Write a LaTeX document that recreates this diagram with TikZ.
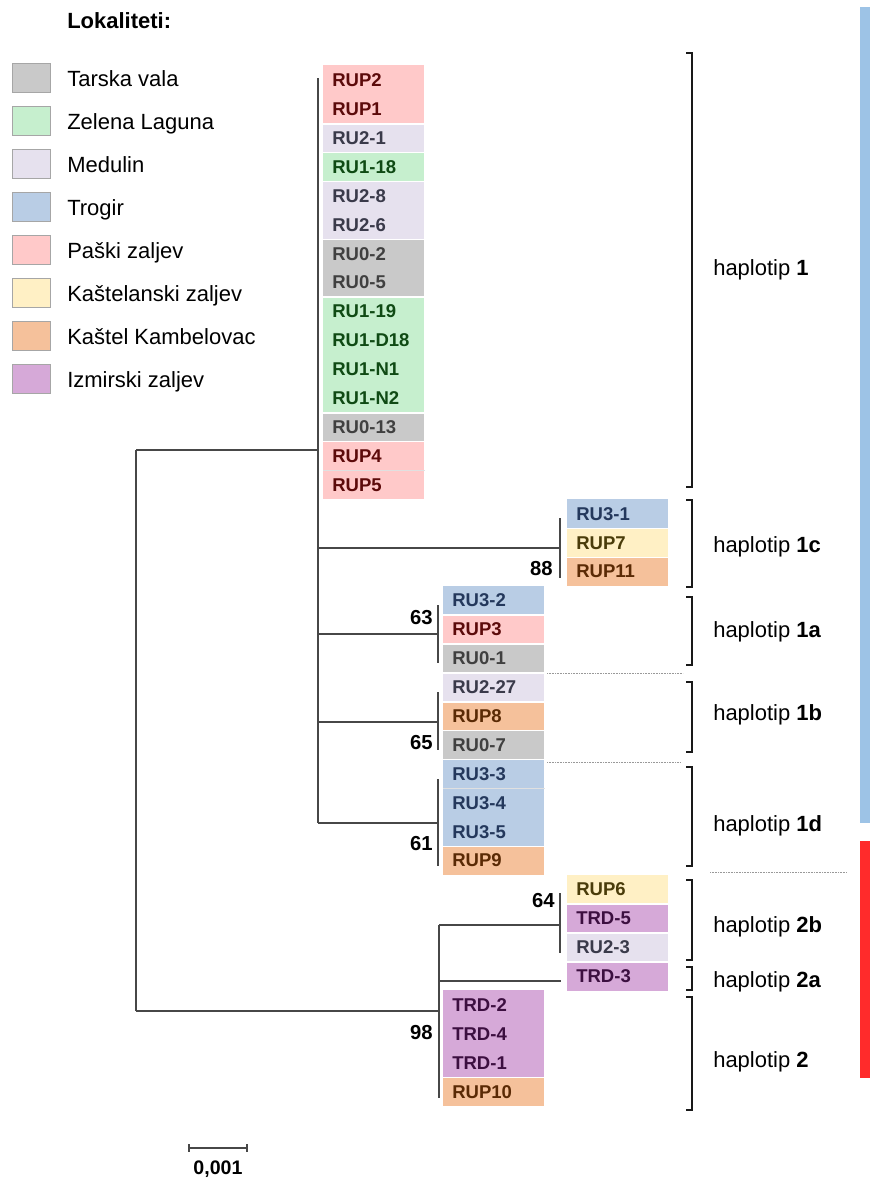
\documentclass[tikz,border=0pt]{standalone}
\usepackage{fontspec}
\setmainfont{Liberation Sans}
\newcommand\legfont{\fontsize{16.5}{19}\selectfont}
\newcommand\leaffont{\fontsize{13.9}{16}\selectfont\bfseries}
\newcommand\bootfont{\fontsize{15.2}{17}\selectfont\bfseries}
\definecolor{pafill}{HTML}{FFC9C9}\definecolor{patext}{HTML}{5C0A0A}
\definecolor{grfill}{HTML}{C9C9C9}\definecolor{grtext}{HTML}{404040}
\definecolor{zlfill}{HTML}{C6EFCE}\definecolor{zltext}{HTML}{0F4A14}
\definecolor{mdfill}{HTML}{E6E1EE}\definecolor{mdtext}{HTML}{3A3A4A}
\definecolor{trfill}{HTML}{B9CDE5}\definecolor{trtext}{HTML}{24385C}
\definecolor{ksfill}{HTML}{FFF0C5}\definecolor{kstext}{HTML}{4A3C0A}
\definecolor{kkfill}{HTML}{F5C19B}\definecolor{kktext}{HTML}{5A2A05}
\definecolor{izfill}{HTML}{D6A9D8}\definecolor{iztext}{HTML}{3C0F40}
\definecolor{barblue}{HTML}{9DC3E6}
\definecolor{barred}{HTML}{FF2B2B}
\begin{document}
\begin{tikzpicture}[x=0.75pt,y=-0.75pt,
  leaf/.style={anchor=west, fill=#1fill, text=#1text, font=\leaffont,
    inner xsep=6.75pt, inner ysep=0pt, text width=62.25pt, align=left,
    minimum height=21.9pt, text height=9.95pt, text depth=0pt},
  swatch/.style={fill=#1fill, draw=black!35, line width=0.6pt,
    minimum width=28.5pt, minimum height=21.75pt, inner sep=0pt},
  legtext/.style={anchor=west, font=\legfont, inner sep=0pt,
    text height=11.8pt, text depth=0pt},
  hap/.style={anchor=west, font=\legfont, inner sep=0pt,
    text height=11.8pt, text depth=0pt},
  boot/.style={anchor=east, font=\bootfont, inner sep=0pt,
    text height=10.9pt, text depth=0pt},
  tree/.style={draw=black!72, line width=1.1pt},
  brk/.style={draw=black!90, line width=1.1pt},
  sepw/.style={draw=white, line width=1.1pt},
  sepf/.style={draw=black!12, line width=0.5pt},
  dots/.style={draw=black!40, line width=0.6pt, dash pattern=on 0.6pt off 0.6pt},
]
\useasboundingbox (0,0) rectangle (870,1178);

% ---- legend
\node[legtext, font=\legfont\bfseries] (legtitle) at (67,21) {Lokaliteti:};
\foreach \i/\cc/\lab in {0/gr/Tarska vala,1/zl/Zelena Laguna,2/md/Medulin,3/tr/Trogir,
  4/pa/Paški zaljev,5/ks/Kaštelanski zaljev,6/kk/Kaštel Kambelovac,7/iz/Izmirski zaljev}{
  \node[swatch=\cc] (sw\i) at (31,{77.5+43*\i}) {};
  \node[legtext] (lt\i) at (67,{78.5+43*\i}) {\lab};
}

% ---- side bars
\fill[barblue] (860,7) rectangle (870,823);
\fill[barred] (860,841) rectangle (870,1078);

% ---- leaves
\foreach \k/\lab/\cc/\xx in {
  0/RUP2/pa/323, 1/RUP1/pa/323, 2/RU2-1/md/323, 3/RU1-18/zl/323,
  4/RU2-8/md/323, 5/RU2-6/md/323, 6/RU0-2/gr/323, 7/RU0-5/gr/323,
  8/RU1-19/zl/323, 9/RU1-D18/zl/323, 10/RU1-N1/zl/323, 11/RU1-N2/zl/323,
  12/RU0-13/gr/323, 13/RUP4/pa/323, 14/RUP5/pa/323,
  15/RU3-1/tr/567, 16/RUP7/ks/567, 17/RUP11/kk/567,
  18/RU3-2/tr/443, 19/RUP3/pa/443, 20/RU0-1/gr/443,
  21/RU2-27/md/443, 22/RUP8/kk/443, 23/RU0-7/gr/443,
  24/RU3-3/tr/443, 25/RU3-4/tr/443, 26/RU3-5/tr/443, 27/RUP9/kk/443,
  28/RUP6/ks/567, 29/TRD-5/iz/567, 30/RU2-3/md/567, 31/TRD-3/iz/567,
  32/TRD-2/iz/443, 33/TRD-4/iz/443, 34/TRD-1/iz/443, 35/RUP10/kk/443}{
  \node[leaf=\cc] (n\k) at (\xx,{80+28.9*\k}) {\lab};
}
% group separators
\foreach \k in {1,2,3,5,7,11,12,15,16,18,19,20,21,22,23,26,28,29,30,34}{
  \draw[sepw] (n\k.south west) -- (n\k.south east);
}
\foreach \k in {13,24}{
  \draw[sepf] (n\k.south west) -- (n\k.south east);
}

% ---- tree
\coordinate (rt) at (136,450);
\coordinate (rb) at (136,1011);
\coordinate (c1) at (318,450);
\coordinate (c1t) at (318,78);
\coordinate (c1b) at (318,823);
\coordinate (c1c0) at (318,548);  \coordinate (c1c) at (560,548);
\coordinate (c1ct) at (560,518);  \coordinate (c1cb) at (560,578);
\coordinate (c1a0) at (318,634);  \coordinate (c1a) at (438,634);
\coordinate (c1at) at (438,605);  \coordinate (c1ab) at (438,663);
\coordinate (c1b0) at (318,722);  \coordinate (c1bn) at (438,722);
\coordinate (c1bt) at (438,692);  \coordinate (c1bb) at (438,750);
\coordinate (c1d) at (438,823);
\coordinate (c1dt) at (438,779);  \coordinate (c1db) at (438,866);
\coordinate (c2) at (439,1011);
\coordinate (c2t) at (439,925);   \coordinate (c2b) at (439,1098);
\coordinate (c2bn) at (560,925);
\coordinate (c2bt) at (560,893);  \coordinate (c2bb) at (560,953);
\coordinate (c2a0) at (439,981);  \coordinate (c2a) at (561,981);

\draw[tree] (rt) -- (rb);
\draw[tree] (rt) -- (c1);
\draw[tree] (c1t) -- (c1b);
\draw[tree] (c1c0) -- (c1c);  \draw[tree] (c1ct) -- (c1cb);
\draw[tree] (c1a0) -- (c1a);  \draw[tree] (c1at) -- (c1ab);
\draw[tree] (c1b0) -- (c1bn); \draw[tree] (c1bt) -- (c1bb);
\draw[tree] (c1b) -- (c1d);   \draw[tree] (c1dt) -- (c1db);
\draw[tree] (rb) -- (c2);
\draw[tree] (c2t) -- (c2b);
\draw[tree] (c2t) -- (c2bn);  \draw[tree] (c2bt) -- (c2bb);
\draw[tree] (c2a0) -- (c2a);

% ---- bootstrap values
\node[boot] (b88) at (553,568) {88};
\node[boot] (b63) at (433,617) {63};
\node[boot] (b65) at (433,742) {65};
\node[boot] (b61) at (433,843) {61};
\node[boot] (b64) at (555,900) {64};
\node[boot] (b98) at (433,1032) {98};

% ---- brackets
\foreach \a/\b in {53/487,500/587,597/665,682/752,767/866,880/960,967/990,997/1110}{
  \draw[brk] (686,\a) -- (692,\a) -- (692,\b) -- (686,\b);
}
\node[hap] (h1) at (713,268) {haplotip \textbf{1}};
\node[hap] (h1c) at (713,545) {haplotip \textbf{1c}};
\node[hap] (h1a) at (713,630) {haplotip \textbf{1a}};
\node[hap] (h1b) at (713,713) {haplotip \textbf{1b}};
\node[hap] (h1d) at (713,824) {haplotip \textbf{1d}};
\node[hap] (h2b) at (713,925) {haplotip \textbf{2b}};
\node[hap] (h2a) at (713,980) {haplotip \textbf{2a}};
\node[hap] (h2) at (713,1060) {haplotip \textbf{2}};

% ---- dotted separators
\draw[dots] (547,673) -- (683,673);
\draw[dots] (547,762) -- (680,762);
\draw[dots] (710,872) -- (847,872);

% ---- scale bar
\coordinate (sa) at (189,1148);
\coordinate (sb) at (247,1148);
\draw[tree] (sa) -- (sb);
\draw[tree] ([yshift=3pt]sa) -- ([yshift=-3pt]sa);
\draw[tree] ([yshift=3pt]sb) -- ([yshift=-3pt]sb);
\node[anchor=center, font=\fontsize{14.7}{16}\selectfont\bfseries, inner sep=0pt,
  text height=10.5pt, text depth=0pt] (scl) at (218,1167) {0,001};
\end{tikzpicture}
\end{document}
